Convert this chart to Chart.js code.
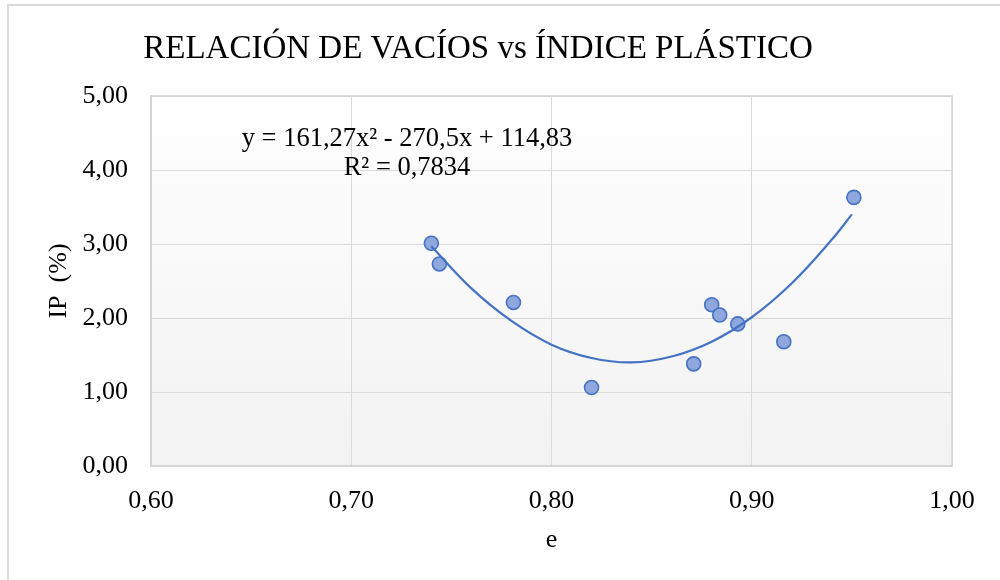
<!DOCTYPE html>
<html>
<head>
<meta charset="utf-8">
<script src="https://cdn.jsdelivr.net/npm/chart.js@4"></script>
<style>
  body { margin: 0; background: #fff; }
  #wrap { position: relative; width: 1000px; height: 580px; }
</style>
</head>
<body>
<div id="wrap"><canvas id="ipChart"></canvas></div>
<script>
// measured points (e, IP %)
const voidRatio = [0.740, 0.744, 0.781, 0.820, 0.871, 0.880, 0.884, 0.893, 0.916, 0.951];
const plasticIndex = [3.01, 2.73, 2.21, 1.06, 1.38, 2.18, 2.04, 1.92, 1.68, 3.63];

// polynomial trendline
const trendX = [0.74, 0.76, 0.78, 0.80, 0.82, 0.84, 0.86, 0.88, 0.90, 0.92, 0.94, 0.95];
const trendY = [2.97, 2.40, 1.96, 1.64, 1.46, 1.40, 1.48, 1.68, 2.01, 2.47, 3.06, 3.40];

const xTicks = [0.60, 0.70, 0.80, 0.90, 1.00];
const yTicks = [0, 1, 2, 3, 4, 5];

const chartTitle = 'RELACIÓN DE VACÍOS vs ÍNDICE PLÁSTICO';
const equationLines = ['y = 161,27x² - 270,5x + 114,83', 'R² = 0,7834'];

const serif = "'Liberation Serif', 'DejaVu Serif', serif";

function fmt(v) {
    return v.toFixed(2).replace('.', ',');
}

// gradient plot background + outer frame
const backdrop = {
    id: 'backdrop',
    beforeDraw(chart) {
        const { ctx, chartArea: a } = chart;
        ctx.save();
        const g = ctx.createLinearGradient(0, a.top, 0, a.bottom);
        g.addColorStop(0, '#ffffff');
        g.addColorStop(1, '#f2f2f2');
        ctx.fillStyle = g;
        ctx.fillRect(a.left, a.top, a.right - a.left, a.bottom - a.top);
        ctx.strokeStyle = '#d9d9d9';
        ctx.lineWidth = 2;
        ctx.strokeRect(8, 5, 1200, 800);
        ctx.restore();
    },
    afterDraw(chart) {
        const { ctx, chartArea: a } = chart;
        ctx.save();
        // thin frame round the plot area
        ctx.strokeStyle = '#d4d4d4';
        ctx.lineWidth = 1.5;
        ctx.strokeRect(a.left, a.top, a.right - a.left, a.bottom - a.top);
        ctx.fillStyle = '#000';
        ctx.textBaseline = 'alphabetic';
        ctx.textAlign = 'center';
        ctx.font = '33px ' + serif;
        ctx.fillText(chartTitle, 478, 58);
        ctx.font = '26.5px ' + serif;
        ctx.fillText(equationLines[0], 407, 146);
        ctx.fillText(equationLines[1], 407, 175);
        ctx.restore();
    }
};

const ctx = document.getElementById('ipChart').getContext('2d');
new Chart(ctx, {
    type: 'scatter',
    data: {
        datasets: [
            {
                label: 'Tendencia',
                data: trendX.map((x, i) => ({ x, y: trendY[i] })),
                showLine: true,
                tension: 0.4,
                borderColor: '#4472c4',
                borderWidth: 2.2,
                pointRadius: 0,
                order: 0
            },
            {
                label: 'IP',
                data: voidRatio.map((x, i) => ({ x, y: plasticIndex[i] })),
                backgroundColor: '#8fa7dc',
                borderColor: '#4472c4',
                borderWidth: 1.6,
                pointRadius: 7,
                order: 1
            }
        ]
    },
    options: {
        responsive: true,
        maintainAspectRatio: false,
        animation: false,
        layout: { padding: { top: 96, right: 48, bottom: 0, left: 0 } },
        plugins: {
            legend: { display: false },
            tooltip: { enabled: false }
        },
        scales: {
            x: {
                type: 'linear',
                min: 0.6,
                max: 1.0,
                afterFit: s => { s.height = 114; },
                afterBuildTicks: s => { s.ticks = xTicks.map(v => ({ value: v })); },
                grid: { color: '#d9d9d9', drawTicks: false },
                border: { color: '#d4d4d4', width: 1.5 },
                ticks: {
                    padding: 20,
                    color: '#000',
                    font: { family: serif, size: 26 },
                    callback: v => fmt(v)
                },
                title: {
                    display: true,
                    text: 'e',
                    color: '#000',
                    font: { family: serif, size: 26 },
                    padding: { top: 0, bottom: 24 }
                }
            },
            y: {
                min: 0,
                max: 5,
                afterFit: s => { s.width = 151; },
                afterBuildTicks: s => { s.ticks = yTicks.map(v => ({ value: v })); },
                grid: { color: '#d9d9d9', drawTicks: false },
                border: { color: '#d4d4d4', width: 1.5 },
                ticks: {
                    padding: 23,
                    color: '#000',
                    font: { family: serif, size: 26 },
                    callback: v => fmt(v)
                },
                title: {
                    display: true,
                    text: 'IP  (%)',
                    color: '#000',
                    font: { family: serif, size: 26 },
                    padding: { top: 44 }
                }
            }
        }
    },
    plugins: [backdrop]
});
</script>
</body>
</html>
